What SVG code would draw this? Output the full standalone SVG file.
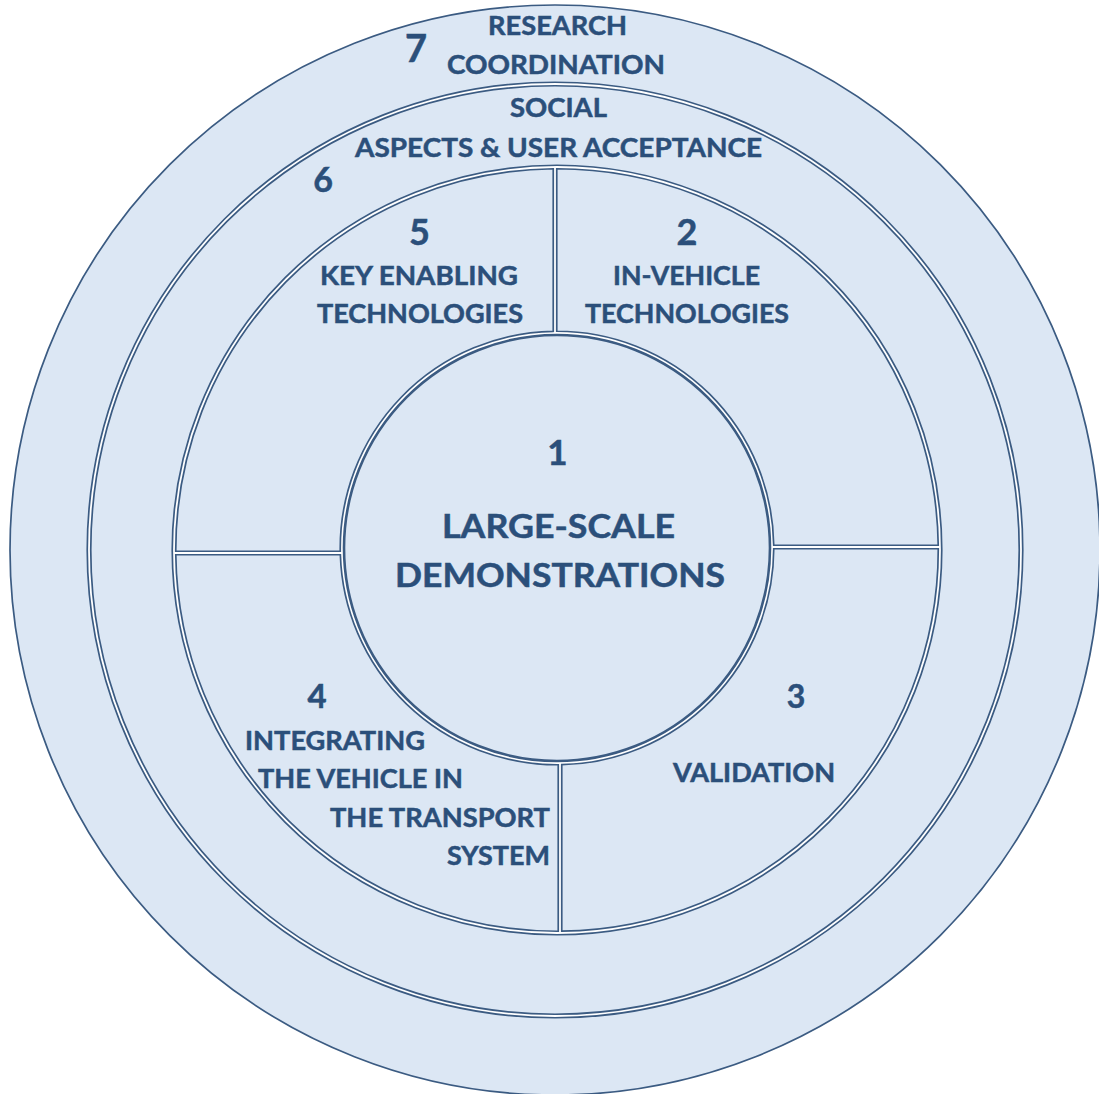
<svg xmlns="http://www.w3.org/2000/svg" width="1099" height="1094" viewBox="0 0 1099 1094">
<style>
.shape{fill:#dce7f4;stroke:#3b5b82;stroke-width:1.7}
.t{font-family:Lato,"Open Sans","Liberation Sans",sans-serif;font-weight:700;fill:#2b4f7a;stroke:#2b4f7a;stroke-width:0.5;font-size:27px}
.big{font-size:33px}
.n{text-anchor:middle}
</style>
<rect width="1099" height="1094" fill="#ffffff"/>
<g id="ring7">
<path class="shape" fill-rule="evenodd" d="M10,550 A545,545 0 1 0 1100,550 A545,545 0 1 0 10,550 Z M87.25,550 A467.75,467.75 0 1 0 1022.75,550 A467.75,467.75 0 1 0 87.25,550 Z"/>
<text class="t n" x="416" y="62" style="font-size:38px">7</text>
<text class="t" x="488" y="35" textLength="139" lengthAdjust="spacingAndGlyphs">RESEARCH</text>
<text class="t" x="447" y="74" textLength="218" lengthAdjust="spacingAndGlyphs">COORDINATION</text>
</g>
<g id="ring6">
<path class="shape" fill-rule="evenodd" d="M90.75,550 A464.25,464.25 0 1 0 1019.25,550 A464.25,464.25 0 1 0 90.75,550 Z M172.25,550 A384.75,384.75 0 1 0 941.75,550 A384.75,384.75 0 1 0 172.25,550 Z"/>
<text class="t n" x="323" y="192" style="font-size:34px">6</text>
<text class="t" x="510" y="117" textLength="97" lengthAdjust="spacingAndGlyphs">SOCIAL</text>
<text class="t" x="355" y="157" textLength="407" lengthAdjust="spacingAndGlyphs">ASPECTS &amp; USER ACCEPTANCE</text>
</g>
<g id="sector5">
<path class="shape" d="M553.25,168.77 A381.25,381.25 0 0 0 175.75,551.25 L340.27,551.25 A216.75,216.75 0 0 1 553.25,331.28 Z"/>
<text class="t n" x="419.5" y="245" style="font-size:36px">5</text>
<text class="t" x="320" y="285" textLength="198" lengthAdjust="spacingAndGlyphs">KEY ENABLING</text>
<text class="t" x="317" y="323" textLength="206" lengthAdjust="spacingAndGlyphs">TECHNOLOGIES</text>
</g>
<g id="sector2">
<path class="shape" d="M556.75,168.75 A381.25,381.25 0 0 1 938.22,545.25 L773.73,545.25 A216.75,216.75 0 0 0 556.75,331.25 Z"/>
<text class="t n" x="687" y="245" style="font-size:36px">2</text>
<text class="t" x="613" y="285" textLength="147" lengthAdjust="spacingAndGlyphs">IN-VEHICLE</text>
<text class="t" x="585" y="323" textLength="204" lengthAdjust="spacingAndGlyphs">TECHNOLOGIES</text>
</g>
<g id="sector3">
<path class="shape" d="M938.25,548.75 A381.25,381.25 0 0 1 561.75,931.22 L561.75,764.7 A216.75,216.75 0 0 0 773.75,548.75 Z"/>
<text class="t n" x="796" y="708" style="font-size:32px">3</text>
<text class="t" x="673" y="782" textLength="162" lengthAdjust="spacingAndGlyphs">VALIDATION</text>
</g>
<g id="sector4">
<path class="shape" d="M558.25,931.25 A381.25,381.25 0 0 1 175.78,554.75 L340.36,554.75 A216.75,216.75 0 0 0 558.25,764.75 Z"/>
<text class="t n" x="317" y="708" style="font-size:33px">4</text>
<text class="t" x="245" y="750" textLength="180" lengthAdjust="spacingAndGlyphs">INTEGRATING</text>
<text class="t" x="258" y="788" textLength="205" lengthAdjust="spacingAndGlyphs">THE VEHICLE IN</text>
<text class="t" x="330" y="827" textLength="220" lengthAdjust="spacingAndGlyphs">THE TRANSPORT</text>
<text class="t" x="447" y="865" textLength="103" lengthAdjust="spacingAndGlyphs">SYSTEM</text>
</g>
<g id="center1">
<circle class="shape" cx="557" cy="548" r="213" style="stroke-width:2.6"/>
<text class="t n" x="557.5" y="465" style="font-size:35px">1</text>
<text class="t big" x="442" y="538" textLength="233" lengthAdjust="spacingAndGlyphs">LARGE-SCALE</text>
<text class="t big" x="395" y="587" textLength="330" lengthAdjust="spacingAndGlyphs">DEMONSTRATIONS</text>
</g>
</svg>
